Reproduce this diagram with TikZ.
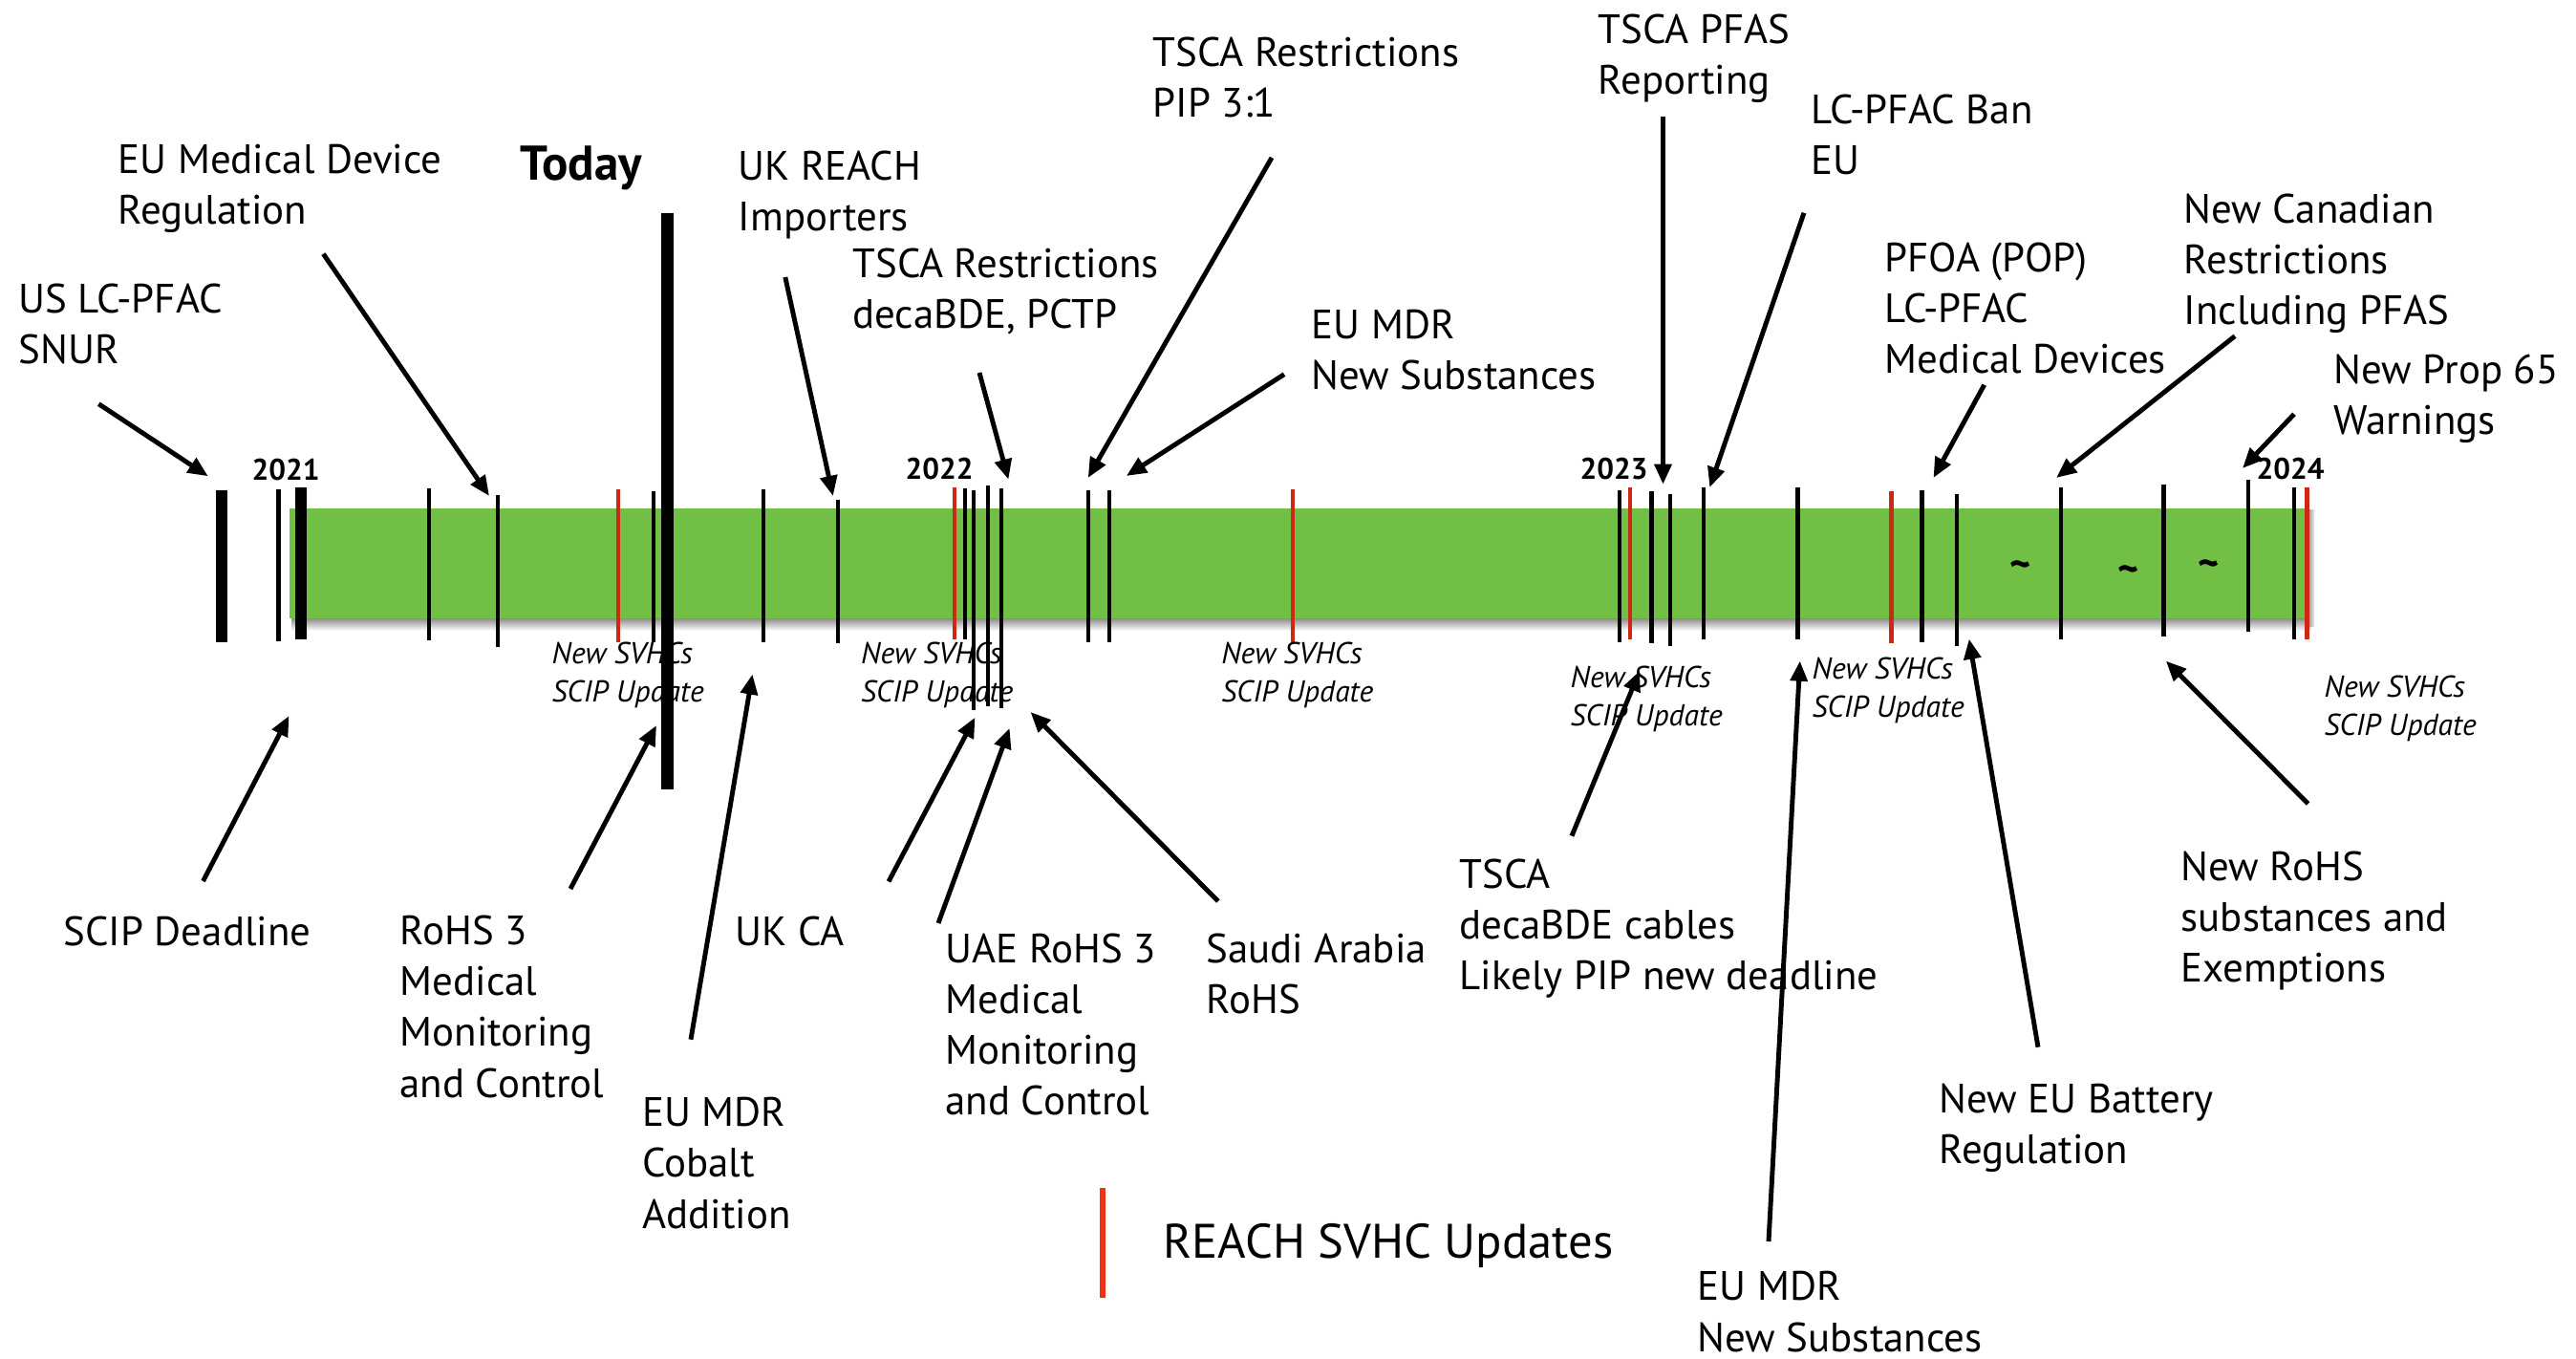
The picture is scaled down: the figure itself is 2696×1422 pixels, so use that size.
\documentclass[tikz,border=0pt]{standalone}
\usepackage{fontspec}
\setmainfont{PT Sans}
\usetikzlibrary{arrows.meta}
\definecolor{barGreen}{RGB}{113,191,68}
\definecolor{svhcRed}{RGB}{205,40,20}
\definecolor{legendRed}{RGB}{240,50,20}
\begin{document}
\begin{tikzpicture}[x=0.01cm,y=-0.01cm,
  lbl/.style={anchor=base west, inner sep=0pt, align=left, font=\fontsize{12.2}{15.1}\selectfont},
  svhc/.style={anchor=base west, inner sep=0pt, align=left, font=\fontsize{9}{11.4}\selectfont\itshape},
  yr/.style={anchor=base west, inner sep=0pt, font=\fontsize{8.9}{10}\selectfont\bfseries},
  tilde/.style={inner sep=0pt, font=\fontsize{12}{14}\selectfont\bfseries},
  tick/.style={line width=1.2pt},
  redtick/.style={line width=1.2pt, draw=svhcRed},
  heavy/.style={line width=3.4pt},
  arr/.style={line width=1.4pt, -{Triangle[length=6pt,width=5pt]}},
]
\useasboundingbox (0,0) rectangle (2696,1422);
\fill[white] (0,0) rectangle (2696,1422);

% bar with shadow
\shade[top color=black!45, bottom color=white] (305,647) rectangle (2419,660);
\shade[left color=black!35, right color=white] (2417,534) rectangle (2423,656);
\fill[barGreen] (303,532) rectangle (2417,647);

% heavy bars
\draw[heavy] (232,513) -- (232,672);
\draw[heavy] (315,510) -- (315,669);
\draw[line width=3.7pt] (698,223) -- (698,826);

% black ticks
\draw[tick] (291.6,512) -- (291.6,671);
\draw[tick] (449,511) -- (449,670);
\draw[tick] (521,518) -- (521,677);
\draw[tick] (684,514) -- (684,672);
\draw[tick] (799,512) -- (799,672);
\draw[tick] (877,523) -- (877,673);
\draw[tick] (1009.7,511) -- (1009.7,669);
\draw[tick] (1018.7,513) -- (1018.7,743);
\draw[tick] (1033.7,508) -- (1033.7,739);
\draw[tick] (1048.3,511) -- (1048.3,741);
\draw[tick] (1139.3,513) -- (1139.3,672);
\draw[tick] (1160.7,513) -- (1160.7,672);
\draw[tick] (1694.6,513) -- (1694.6,672);
\draw[tick] (1728.5,514) -- (1728.5,673);
\draw[tick] (1748,517) -- (1748,676);
\draw[tick] (1782.8,510) -- (1782.8,669);
\draw[tick] (1881.5,510) -- (1881.5,669);
\draw[tick] (2011.5,513) -- (2011.5,672);
\draw[tick] (2048.2,517) -- (2048.2,676);
\draw[tick] (2157,510) -- (2157,669);
\draw[tick] (2264.4,507) -- (2264.4,666);
\draw[tick] (2353,502) -- (2353,661);
\draw[tick] (2401,510) -- (2401,669);

% red ticks
\draw[redtick] (647,512) -- (647,672);
\draw[redtick] (999.3,510) -- (999.3,669);
\draw[redtick] (1352.8,512) -- (1352.8,672);
\draw[redtick] (1705.7,510) -- (1705.7,669);
\draw[redtick] (1979.5,514) -- (1979.5,673);
\draw[redtick] (2414.5,510) -- (2414.5,669);

% tildes
\node[tilde] (tA) at (2115,596) {\textasciitilde};
\node[tilde] (tB) at (2227.6,601) {\textasciitilde};
\node[tilde] (tC) at (2311.6,595) {\textasciitilde};

% years
\node[yr] (y21) at (263,503) {2021};
\node[yr] (y22) at (947,502) {2022};
\node[yr] (y23) at (1653,502) {2023};
\node[yr] (y24) at (2361,502) {2024};

% SVHC labels (anchored at the baseline of the last line)
\node[svhc] (sA) at (577,735) {New SVHCs\\SCIP Update};
\node[svhc] (sB) at (900.5,735) {New SVHCs\\SCIP Update};
\node[svhc] (sC) at (1277.6,735) {New SVHCs\\SCIP Update};
\node[svhc] (sD) at (1643,760) {New SVHCs\\SCIP Update};
\node[svhc] (sE) at (1896,751) {New SVHCs\\SCIP Update};
\node[svhc] (sF) at (2432,770) {New SVHCs\\SCIP Update};

% top labels (anchored at the baseline of the last line)
\node[lbl] (usl) at (19,381) {US LC-PFAC\\SNUR};
\node[lbl] (eumd) at (123,234.7) {EU Medical Device\\Regulation};
\node[anchor=base west, inner sep=0pt, font=\fontsize{14.5}{16}\selectfont\bfseries] (today) at (544,189) {Today};
\node[lbl] (ukreach) at (772,241.3) {UK REACH\\Importers};
\node[lbl] (tscadeca) at (891.8,344) {TSCA Restrictions\\decaBDE, PCTP};
\node[lbl] (tscapip) at (1206,123) {TSCA Restrictions\\PIP 3:1};
\node[lbl] (eumdrtop) at (1372,408) {EU MDR\\New Substances};
\node[lbl] (tscapfas) at (1672,99) {TSCA PFAS\\Reporting};
\node[lbl] (lcban) at (1895,183) {LC-PFAC Ban\\EU};
\node[lbl] (pfoa) at (1972,391) {PFOA (POP)\\LC-PFAC\\Medical Devices};
\node[lbl] (canada) at (2285,339.3) {New Canadian\\Restrictions\\Including PFAS};
\node[lbl] (prop) at (2442,454.7) {New Prop 65\\Warnings};

% bottom labels
\node[lbl] (scip) at (66,990) {SCIP Deadline};
\node[lbl] (rohs) at (418,1148) {RoHS 3\\Medical\\Monitoring\\and Control};
\node[lbl] (cobalt) at (671.6,1285) {EU MDR\\Cobalt\\Addition};
\node[lbl] (ukca) at (769,990) {UK CA};
\node[lbl] (uae) at (989,1166.6) {UAE RoHS 3\\Medical\\Monitoring\\and Control};
\node[lbl] (saudi) at (1262,1060.6) {Saudi Arabia\\RoHS};
\node[lbl] (tscacab) at (1527,1035.5) {TSCA\\decaBDE cables\\Likely PIP new deadline};
\node[lbl] (eumdrbot) at (1776,1414) {EU MDR\\New Substances};
\node[lbl] (battery) at (2029,1217.7) {New EU Battery\\Regulation};
\node[lbl] (newrohs) at (2282,1027.8) {New RoHS\\substances and\\Exemptions};

% legend
\draw[line width=1.6pt, legendRed] (1154,1243) -- (1154,1357.6);
\node[anchor=base west, inner sep=0pt, font=\fontsize{14.4}{16}\selectfont] (legend) at (1217,1316) {REACH SVHC Updates};

% arrow end points
\coordinate (a1s) at (103.3,422.7);  \coordinate (a1e) at (217.8,498.3);
\coordinate (a2s) at (338.4,265.7);  \coordinate (a2e) at (512,519);
\coordinate (a3s) at (821.8,290);    \coordinate (a3e) at (871.8,519);
\coordinate (a4s) at (1025,390);     \coordinate (a4e) at (1055.4,501.7);
\coordinate (a5s) at (1331,165);     \coordinate (a5e) at (1138.7,500);
\coordinate (a6s) at (1344,391.7);   \coordinate (a6e) at (1178.8,498);
\coordinate (a7s) at (1740.5,121.7); \coordinate (a7e) at (1740.5,506.7);
\coordinate (a8s) at (1888,222.7);   \coordinate (a8e) at (1789.3,510);
\coordinate (a9s) at (2076.7,402.7); \coordinate (a9e) at (2023.5,500);
\coordinate (a10s) at (2339,351.7);  \coordinate (a10e) at (2152,500);
\coordinate (a11s) at (2401,433.3);  \coordinate (a11e) at (2347,490);
\coordinate (a12s) at (212.5,922);   \coordinate (a12e) at (302.5,749);
\coordinate (a13s) at (597,930);     \coordinate (a13e) at (687,759);
\coordinate (a14s) at (723,1087.7);  \coordinate (a14e) at (787.5,705.5);
\coordinate (a15s) at (930,922.4);   \coordinate (a15e) at (1020.5,750.7);
\coordinate (a16s) at (982,966);     \coordinate (a16e) at (1056.6,762);
\coordinate (a17s) at (1274.8,943);  \coordinate (a17e) at (1078.5,745);
\coordinate (a18s) at (1645,874.7);  \coordinate (a18e) at (1716,702);
\coordinate (a19s) at (1851,1299);   \coordinate (a19e) at (1883.8,691.6);
\coordinate (a20s) at (2133,1095.7); \coordinate (a20e) at (2060.8,668.6);
\coordinate (a21s) at (2415.6,841);  \coordinate (a21e) at (2266.8,691.6);

\foreach \i in {1,...,21} {\draw[arr] (a\i s) -- (a\i e);}
\end{tikzpicture}
\end{document}
